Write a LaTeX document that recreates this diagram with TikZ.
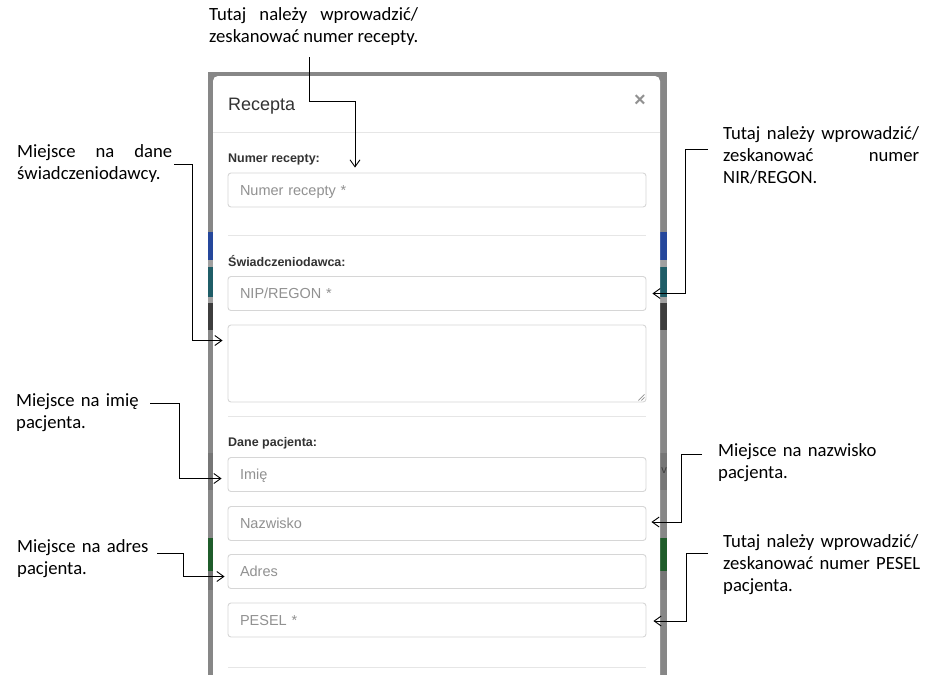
\documentclass[tikz,border=0pt]{standalone}
\usepackage{fontspec}
\setmainfont{Carlito}
\newfontfamily\uifont{Liberation Sans}
\usetikzlibrary{arrows.meta}
\tolerance=10000
\hyphenpenalty=10000
\exhyphenpenalty=10000
\definecolor{backdrop}{HTML}{878787}
\definecolor{stripeblue}{HTML}{25479B}
\definecolor{stripeteal}{HTML}{1F5D67}
\definecolor{stripedark}{HTML}{3D3D3D}
\definecolor{stripegreen}{HTML}{1F5C2A}
\definecolor{stripelight}{HTML}{A0A0A0}
\definecolor{stripemid}{HTML}{767676}
\definecolor{fieldline}{HTML}{D6D6D6}
\definecolor{dividerline}{HTML}{E6E6E6}
\definecolor{placeholder}{HTML}{919191}
\definecolor{labeltext}{HTML}{333333}
\tikzset{
  note/.style={font=\fontsize{18.67}{22}\selectfont,inner sep=0pt,anchor=base west},
  callout/.style={line width=0.9pt,-{Straight Barb[length=7pt,width=10pt]}},
  field/.style={draw=fieldline,line width=0.9pt,rounded corners=3pt,fill=white,
    minimum width=418pt,minimum height=34pt,text width=394pt,inner xsep=12pt,inner ysep=0pt,
    align=left,text height=13.4pt,text depth=3pt,text=placeholder,
    font=\uifont\fontsize{14.5}{17}\selectfont},
  label/.style={font=\uifont\bfseries\fontsize{12.5}{15}\selectfont,text=labeltext,inner sep=0pt,anchor=base west},
  divider/.style={draw=dividerline,line width=0.9pt},
}
\begin{document}
\begin{tikzpicture}[x=1pt,y=-1pt]
\useasboundingbox (0,0) rectangle (937,686);
% backdrop and modal
\fill[backdrop](208,72)rectangle(667,675);
\foreach \ya/\yb/\col in {232/260/stripeblue,260/267/stripelight,267/297/stripeteal,297/303/stripelight,303/330/stripedark,453/490/stripemid,538/571/stripegreen,571/590/stripemid}{
  \fill[\col](208,\ya)rectangle(213,\yb);
  \fill[\col](660,\ya)rectangle(667,\yb);}
\begin{scope}
\clip(660,453)rectangle(667,490);
\node[font=\uifont\fontsize{11}{11}\selectfont,text=stripedark](vbit)at(664,471){v};
\end{scope}
\fill[white](213,675)[rounded corners=5pt]--(213,76)--(660,76)[sharp corners]--(660,675)--cycle;
% header
\node[font=\uifont\fontsize{18}{20}\selectfont,text=labeltext,inner sep=0pt,anchor=base west](title)at(228,110){Recepta};
\node[font=\uifont\bfseries\fontsize{20}{20}\selectfont,text=placeholder,inner sep=0pt](close)at(640,101){×};
\draw[divider](213,132)--(660,132);
% form
\node[label](lNr)at(228,162){Numer recepty:};
\node[field](fNr)at(437,190){Numer recepty *};
\draw[divider](228,235)--(646,235);
\node[label](lSwiad)at(228,266){Świadczeniodawca:};
\node[field](fNip)at(437,293.5){NIP/REGON *};
\node[field,minimum height=77pt](fText)at(437,363.5){};
\draw[draw=placeholder,line width=0.6pt]([xshift=-8pt,yshift=2pt]fText.south east)--([xshift=-2pt,yshift=8pt]fText.south east);
\draw[draw=placeholder,line width=0.6pt]([xshift=-5pt,yshift=2pt]fText.south east)--([xshift=-2pt,yshift=5pt]fText.south east);
\draw[divider](228,416)--(646,416);
\node[label](lDane)at(228,446){Dane pacjenta:};
\node[field](fImie)at(437,474.5){Imię};
\node[field](fNazw)at(437,523.5){Nazwisko};
\node[field](fAdres)at(437,571.5){Adres};
\node[field](fPesel)at(437,620){PESEL *};
\draw[divider](228,667)--(646,667);
% notes
\node[note,text width=209pt,align=justify](noteNr)at(209,20){Tutaj należy wprowadzić/\linebreak zeskanować numer recepty.};
\node[note,text width=155pt,align=justify](noteSwiad)at(17,157){Miejsce na dane\linebreak świadczeniodawcy.};
\node[note,text width=196pt,align=justify](noteNip)at(723,139.5){Tutaj należy wprowadzić/\linebreak zeskanować numer\linebreak NIR/REGON.};
\node[note,text width=180pt,align=left](noteImie)at(16,406.5){Miejsce na imię\\pacjenta.};
\node[note,text width=180pt,align=left](noteAdres)at(17,552.5){Miejsce na adres\\pacjenta.};
\node[note,text width=200pt,align=left](noteNazw)at(718,456.5){Miejsce na nazwisko\\pacjenta.};
\node[note,text width=200pt,align=left](notePesel)at(723,547.5){Tutaj należy wprowadzić/\\zeskanować numer PESEL\\pacjenta.};
% connectors
\coordinate(sNr)at(309,57);
\coordinate(sSwiad)at(174,164);
\coordinate(sNip)at(708,149);
\coordinate(sImie)at(150,403);
\coordinate(sAdres)at(157,553);
\coordinate(sNazw)at(702,454);
\coordinate(sPesel)at(708,553);
\coordinate(tNr)at([xshift=-82pt,yshift=5pt]fNr.north);
\coordinate(tSwiad)at([xshift=-5pt,yshift=23pt]fText.west);
\coordinate(tNip)at([xshift=6pt]fNip.east);
\coordinate(tImie)at([xshift=-6pt,yshift=-4pt]fImie.west);
\coordinate(tAdres)at([xshift=-3pt,yshift=-5pt]fAdres.west);
\coordinate(tNazw)at([xshift=5pt,yshift=1.5pt]fNazw.east);
\coordinate(tPesel)at([xshift=7pt,yshift=-1pt]fPesel.east);
\draw[callout](sNr)|-([yshift=66pt]tNr)--(tNr);
\draw[callout](sSwiad)-|([xshift=-30pt]tSwiad)--(tSwiad);
\draw[callout](sNip)-|([xshift=33pt]tNip)--(tNip);
\draw[callout](sImie)-|([xshift=-42pt]tImie)--(tImie);
\draw[callout](sAdres)-|([xshift=-41pt]tAdres)--(tAdres);
\draw[callout](sNazw)-|([xshift=30pt]tNazw)--(tNazw);
\draw[callout](sPesel)-|([xshift=33pt]tPesel)--(tPesel);
\end{tikzpicture}
\end{document}
